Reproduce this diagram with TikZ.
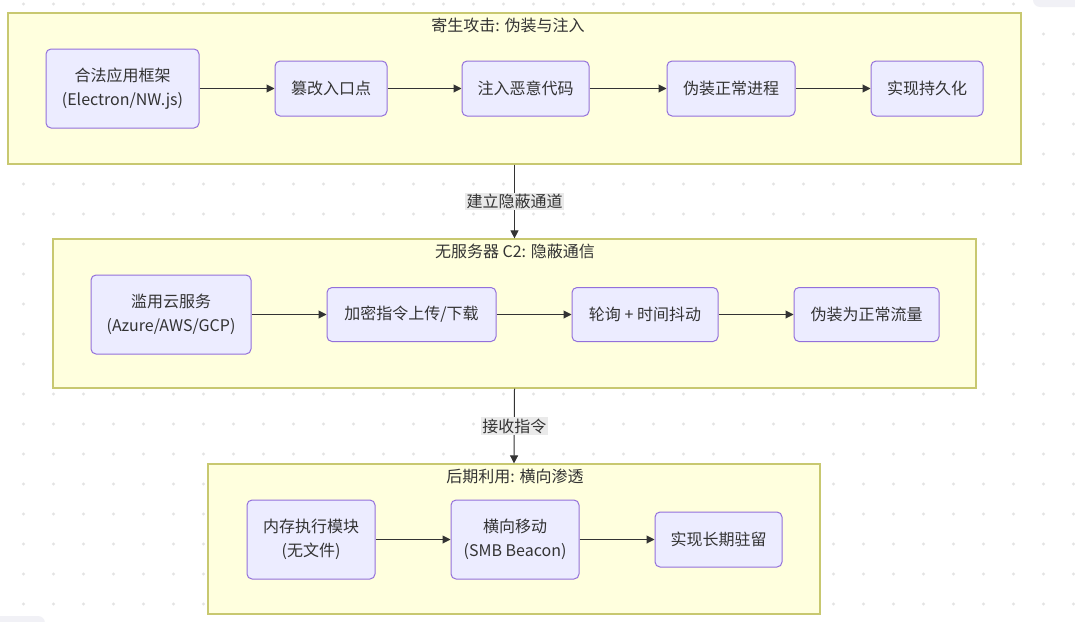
\documentclass[tikz,border=0pt]{standalone}
\usepackage{fontspec}
\newfontfamily\cjk{Noto Sans CJK SC}
\usetikzlibrary{arrows.meta}
\definecolor{txt}{HTML}{333333}
\definecolor{clfill}{HTML}{FFFFDE}
\definecolor{cldraw}{HTML}{C8C870}
\definecolor{ndfill}{HTML}{ECECFF}
\definecolor{nddraw}{HTML}{9370DB}
\definecolor{dotc}{HTML}{E3E3E3}
\definecolor{artc}{HTML}{F1F1F6}
\definecolor{lblc}{HTML}{EAEAEA}
\tikzset{
  cluster/.style={draw=cldraw, fill=clfill, line width=1.2pt, inner sep=0pt},
  proc/.style={draw=nddraw, fill=ndfill, line width=1pt, rounded corners=5pt, inner sep=0pt,
    align=center, text=txt, font=\cjk\fontsize{16}{24}\selectfont},
  ctitle/.style={text=txt, font=\cjk\fontsize{16}{20}\selectfont, inner sep=0pt},
  edge/.style={draw=txt, line width=1pt, -{Triangle[length=8pt,width=8pt]}},
  elabel/.style={fill=lblc, text=txt, font=\cjk\fontsize{16}{20}\selectfont, inner sep=1.5pt}
}
\begin{document}
\begin{tikzpicture}[x=1pt,y=-1pt]
\useasboundingbox (0,0) rectangle (1075,621);
\clip (0,0) rectangle (1075,621);
\fill[white] (0,0) rectangle (1075,621);
\foreach \i in {0,...,35}{\foreach \j in {0,...,20}{\fill[dotc] (23.5+30*\i,4+30*\j) circle (1.7);}}
\fill[artc, rounded corners=7pt] (1033,-12) rectangle (1090,7);
\fill[artc, rounded corners=7pt] (-12,616) rectangle (45,632);

% clusters
\node[cluster, minimum width=1013, minimum height=151] (c1) at (514.5,88.5) {};
\node[cluster, minimum width=923, minimum height=149] (c2) at (514.5,313.5) {};
\node[cluster, minimum width=612, minimum height=150] (c3) at (514,539) {};
\node[ctitle] (t1) at (508,25) {寄生攻击: 伪装与注入};
\node[ctitle] (t2) at (515,251) {无服务器 C2: 隐蔽通信};
\node[ctitle] (t3) at (515,476) {后期利用: 横向渗透};

% cluster 1 nodes
\node[proc, minimum width=153, minimum height=79] (n1) at (122.5,88.5) {合法应用框架\\(Electron/NW.js)};
\node[proc, minimum width=112, minimum height=55] (n2) at (331,88.5) {篡改入口点};
\node[proc, minimum width=127, minimum height=55] (n3) at (525.5,88.5) {注入恶意代码};
\node[proc, minimum width=128, minimum height=55] (n4) at (731,88.5) {伪装正常进程};
\node[proc, minimum width=112, minimum height=55] (n5) at (927,88.5) {实现持久化};

% cluster 2 nodes
\node[proc, minimum width=160, minimum height=79] (m1) at (171,314.5) {滥用云服务\\(Azure/AWS/GCP)};
\node[proc, minimum width=169, minimum height=54] (m2) at (411.5,314.5) {加密指令上传/下载};
\node[proc, minimum width=146, minimum height=54] (m3) at (645,314.5) {轮询 + 时间抖动};
\node[proc, minimum width=145, minimum height=54] (m4) at (866.5,314.5) {伪装为正常流量};

% cluster 3 nodes
\node[proc, minimum width=128, minimum height=79] (k1) at (311,539.5) {内存执行模块\\(无文件)};
\node[proc, minimum width=128, minimum height=79] (k2) at (515,539.5) {横向移动\\(SMB Beacon)};
\node[proc, minimum width=127, minimum height=55] (k3) at (718.5,539.5) {实现长期驻留};

% edges
\draw[edge] (n1) -- (n2);
\draw[edge] (n2) -- (n3);
\draw[edge] (n3) -- (n4);
\draw[edge] (n4) -- (n5);
\draw[edge] (m1) -- (m2);
\draw[edge] (m2) -- (m3);
\draw[edge] (m3) -- (m4);
\draw[edge] (k1) -- (k2);
\draw[edge] (k2) -- (k3);
\draw[edge] (c1.south) -- node[elabel] (l1) {建立隐蔽通道} (c2.north);
\draw[edge] (c2.south) -- node[elabel] (l2) {接收指令} (c3.north);
\end{tikzpicture}
\end{document}
